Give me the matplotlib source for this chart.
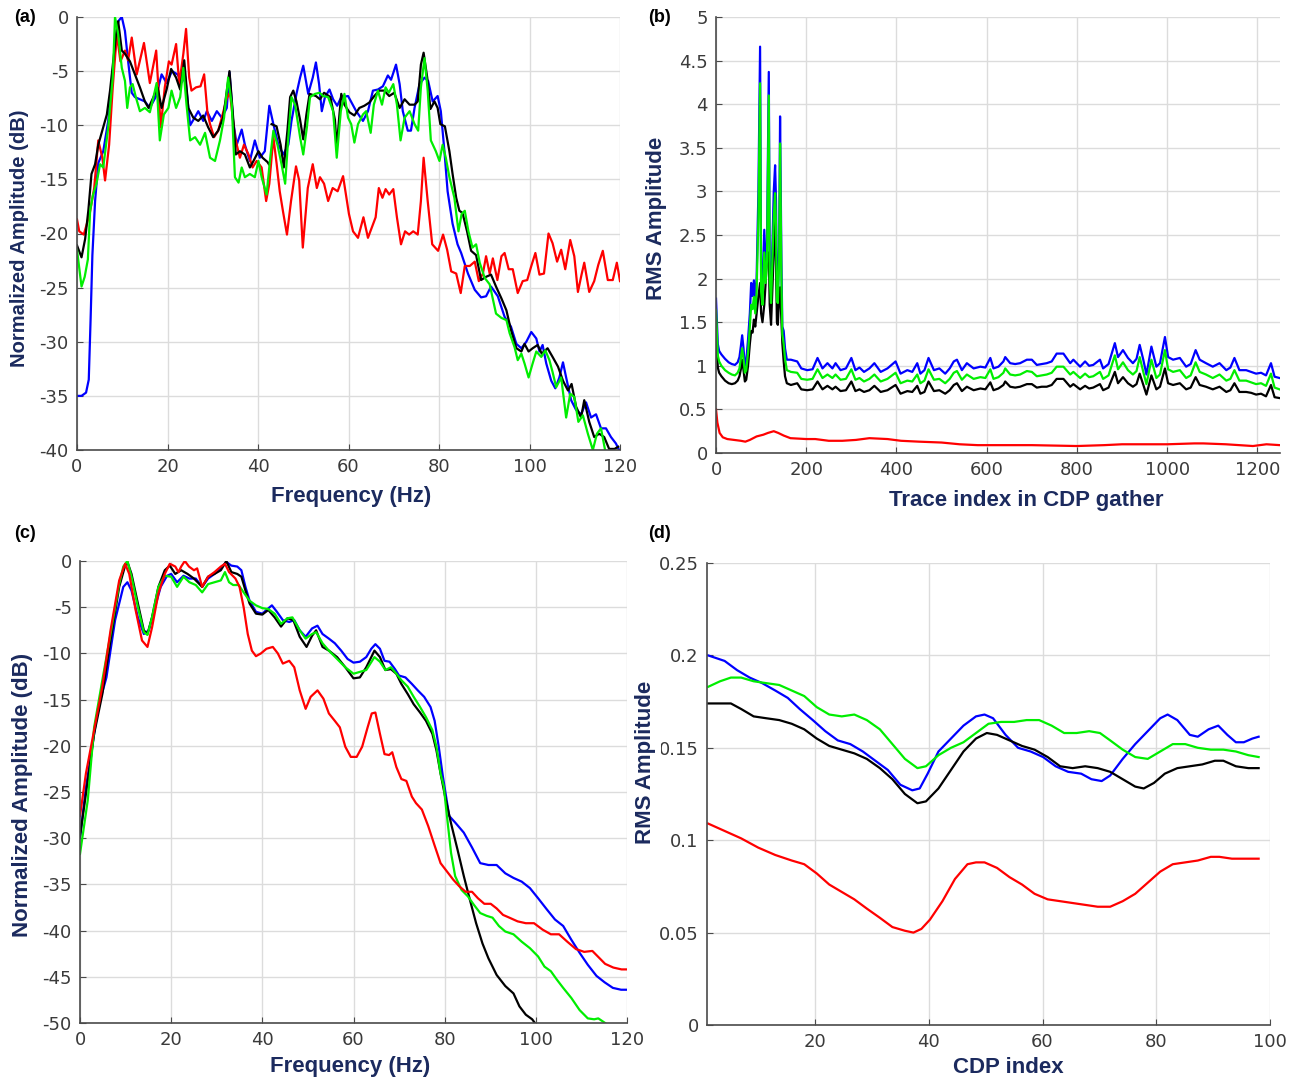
import numpy as np
import matplotlib
matplotlib.use("Agg")
import matplotlib.pyplot as plt
from matplotlib.ticker import FuncFormatter

# ---------------- data: panel (a) amplitude spectra (Hz, dB) ----------------
a_blue = np.array([[0,-35],[1,-35],[2,-34.7],[2.6,-33.5],[3.0,-28],[3.4,-22],[4.0,-17],[4.7,-13.5],[5.8,-12.4],
    [6.9,-9.6],[8.0,-4.7],[9.1,-0.4],[9.9,0],[10.6,-1.3],[11.3,-4.1],[12.1,-7.0],[12.8,-7.4],[13.9,-7.6],[15.0,-7.8],
    [16.1,-8.4],[17.5,-7.3],[18.7,-5.3],[19.8,-6.1],[21.0,-5.0],[22.2,-5.3],[23.2,-6.0],[23.9,-5.5],[25.0,-10.0],
    [26.0,-9.3],[26.8,-8.7],[27.9,-9.6],[28.7,-8.7],[29.8,-9.6],[30.9,-8.7],[32.0,-9.3],[33.1,-8.4],[33.7,-5.1],
    [34.5,-9.6],[35.3,-11.8],[36.4,-10.4],[37.1,-11.8],[38.2,-13.3],[39.3,-11.4],[40.4,-13.0],[41.5,-12.4],[42.5,-8.2],
    [43.4,-9.9],[44.5,-11.8],[45.6,-12.7],[46.7,-11.8],[47.4,-9.6],[48.5,-7.1],[49.3,-5.6],[50.0,-4.5],[51.1,-7.1],
    [52.1,-5.6],[52.8,-4.2],[53.5,-6.2],[54.1,-8.7],[54.8,-7.4],[55.8,-6.7],[56.6,-7.6],[57.5,-8.2],[58.4,-7.4],
    [59.9,-7.3],[61.7,-8.7],[63.2,-9.6],[64.3,-8.7],[65.4,-6.8],[66.5,-6.7],[67.6,-6.4],[68.7,-5.4],[69.4,-5.8],
    [70.5,-4.4],[71.3,-6.2],[72.0,-8.7],[73.1,-10.5],[73.8,-10.5],[74.6,-8.4],[75.7,-6.2],[76.8,-5.6],[77.6,-5.9],
    [78.6,-7.8],[79.7,-7.3],[80.4,-8.7],[81.2,-12.4],[81.9,-16.1],[83.0,-19.1],[84.1,-21.0],[84.9,-21.8],[86.4,-23.7],
    [87.9,-25.2],[89.3,-25.9],[90.4,-25.8],[91.5,-24.9],[93.0,-25.8],[94.5,-27.7],[95.9,-28.6],[97.1,-30.2],[98.2,-30.6],
    [99.3,-30.0],[100.4,-29.1],[101.5,-29.7],[102.2,-30.9],[102.9,-30.3],[103.7,-32.0],[104.8,-33.6],[105.7,-34.3],
    [106.6,-33.3],[107.4,-31.9],[108.1,-33.3],[109.2,-35.4],[110.3,-36.3],[111.4,-36.7],[112.5,-35.6],[113.6,-37.0],
    [114.7,-36.7],[115.8,-38.0],[116.9,-38.0],[118.0,-38.8],[119.1,-39.4],[119.8,-40.0]])

a_black = np.array([[0,-21.1],[1,-22.2],[1.8,-20.5],[2.5,-17.9],[3.2,-14.5],[4.0,-13.6],[4.7,-11.8],[5.8,-10.2],[6.6,-9.0],
    [7.3,-6.8],[8.0,-4.1],[8.8,-1.0],[9.1,-0.4],[9.9,-3.1],[10.6,-3.4],[11.7,-4.1],[12.8,-5.3],[13.9,-6.5],[15.0,-7.8],
    [15.8,-8.4],[16.9,-7.4],[17.8,-6.5],[18.7,-8.4],[19.8,-6.7],[20.8,-4.8],[21.9,-5.6],[22.8,-6.7],[23.7,-4.0],
    [24.6,-8.4],[25.7,-9.3],[26.8,-9.6],[27.9,-9.1],[29.0,-10.2],[30.1,-11.1],[31.2,-10.5],[32.3,-9.3],[33.2,-6.5],
    [33.7,-5.0],[34.4,-8.7],[35.1,-12.7],[36.0,-12.4],[37.1,-12.7],[38.2,-13.9],[39.0,-13.3],[40.1,-12.4],[41.0,-13.0],
    [42.1,-13.4],[42.4,-13.6],[np.nan,np.nan],[43.0,-9.9],[44.1,-10.1],[45.0,-11.8],[45.7,-13.9],[46.5,-10.5],[47.1,-7.4],
    [47.8,-6.8],[48.5,-7.8],[49.3,-9.5],[50.0,-11.3],[50.7,-9.0],[51.4,-7.1],[52.8,-7.3],[53.7,-7.6],[54.6,-7.0],
    [56.0,-7.4],[57.0,-9.5],[57.4,-12.1],[58.0,-9.0],[58.4,-7.1],[59.1,-8.1],[60.2,-8.8],[61.3,-9.1],[62.4,-8.4],
    [63.5,-8.2],[64.6,-7.9],[65.7,-7.3],[66.8,-6.8],[67.9,-6.8],[69.0,-7.3],[70.1,-7.0],[71.3,-8.4],[72.4,-7.6],
    [73.5,-8.1],[74.6,-8.1],[75.3,-7.8],[76.0,-4.4],[76.6,-3.3],[77.4,-5.6],[78.1,-8.5],[79.0,-7.8],[79.7,-8.4],
    [80.3,-9.9],[81.3,-10.1],[82.3,-12.4],[83.0,-14.5],[83.8,-16.7],[84.5,-17.9],[85.2,-18.1],[86.2,-19.8],[87.1,-21.6],
    [88.2,-22.0],[89.3,-24.3],[90.4,-24.0],[91.5,-23.8],[92.6,-24.9],[93.8,-26.0],[94.9,-27.1],[95.9,-28.9],[97.1,-30.6],
    [98.2,-30.9],[98.9,-30.2],[99.8,-30.9],[100.7,-30.6],[101.8,-30.3],[102.7,-31.1],[104.0,-30.6],[105.1,-31.4],
    [106.3,-32.3],[107.4,-33.6],[108.5,-34.5],[109.3,-33.9],[110.3,-36.0],[111.4,-37.0],[112.1,-35.4],[113.2,-37.4],
    [114.3,-38.8],[115.4,-38.5],[116.5,-38.8],[117.6,-39.9],[118.8,-39.9],[119.6,-39.7]])

a_green = np.array([[0,-21.5],[1,-24.9],[1.7,-24.0],[2.4,-22.4],[2.9,-17.9],[3.5,-16.5],[4.3,-15.4],[5.1,-13.6],[5.8,-13.9],
    [6.9,-10.2],[7.9,-5.6],[8.4,0],[9.1,-1.6],[9.9,-4.7],[10.6,-5.9],[11.1,-8.4],[11.7,-6.5],[12.3,-6.2],[13.0,-7.4],
    [13.9,-8.7],[15.0,-8.4],[16.1,-8.8],[16.9,-7.4],[17.6,-6.1],[18.3,-11.4],[19.2,-9.0],[20.2,-8.4],[20.9,-6.8],
    [21.9,-8.4],[22.8,-7.4],[23.5,-4.7],[24.2,-8.1],[25.0,-11.4],[26.1,-11.1],[27.2,-11.8],[28.3,-10.7],[29.4,-13.0],
    [30.5,-13.3],[31.6,-11.4],[32.5,-9.3],[33.4,-5.6],[34.2,-8.1],[34.9,-14.8],[35.7,-15.3],[36.4,-13.9],[37.1,-14.8],
    [38.2,-14.5],[39.3,-14.8],[40.1,-13.3],[40.8,-14.8],[41.9,-16.4],[42.7,-13.0],[43.4,-10.5],[44.3,-11.8],[45.2,-13.6],
    [46.0,-15.4],[46.7,-11.1],[47.4,-7.4],[48.2,-8.1],[49.3,-11.1],[50.0,-12.7],[50.8,-10.2],[51.5,-7.4],[52.6,-7.1],
    [53.6,-7.0],[54.4,-7.3],[55.5,-7.4],[56.6,-8.7],[57.4,-13.0],[58.3,-8.7],[59.1,-7.1],[59.9,-9.3],[60.6,-9.9],
    [61.3,-11.6],[62.1,-9.9],[63.2,-9.0],[63.9,-8.7],[64.9,-10.7],[65.6,-8.1],[66.5,-6.8],[67.4,-8.1],[68.2,-6.5],
    [68.9,-7.0],[69.9,-6.2],[70.7,-8.1],[71.5,-11.4],[72.4,-9.3],[73.5,-8.7],[74.6,-9.9],[75.4,-10.5],[76.0,-6.5],
    [76.8,-3.8],[77.5,-6.8],[78.2,-11.4],[79.3,-12.4],[80.1,-13.3],[80.8,-11.8],[81.5,-13.0],[82.3,-14.8],[83.4,-16.7],
    [84.3,-19.8],[85.0,-18.2],[85.7,-17.9],[86.5,-19.8],[87.4,-21.3],[88.2,-21.0],[89.0,-22.7],[90.1,-24.1],[91.2,-24.7],
    [92.6,-27.4],[93.8,-27.8],[94.9,-28.0],[95.6,-29.2],[96.7,-30.5],[97.4,-31.7],[98.2,-31.1],[98.9,-32.0],[99.8,-33.3],
    [100.7,-32.0],[101.5,-30.9],[102.6,-31.4],[103.5,-30.8],[104.4,-31.7],[105.1,-32.8],[105.9,-34.2],[107.0,-33.3],
    [108.1,-37.0],[109.0,-34.8],[109.9,-35.1],[110.8,-37.4],[111.8,-36.8],[112.9,-38.5],[114.0,-40.0],[114.9,-38.5],
    [115.8,-38.0],[116.7,-40.0]])

a_red = np.array([[0,-18.7],[0.5,-19.8],[1.5,-20.1],[2.8,-18.2],[3.8,-15.8],[4.7,-11.4],[5.6,-13.0],[6.2,-15.1],[7.1,-11.8],
    [7.9,-6.5],[8.8,-1.6],[9.6,-4.1],[10.6,-3.1],[11.3,-4.0],[12.1,-1.9],[13.2,-5.3],[14.8,-2.4],[16.1,-6.1],[17.5,-3.1],
    [18.5,-10.2],[19.4,-6.5],[20.3,-4.1],[20.9,-4.4],[21.9,-2.5],[22.6,-6.2],[23.5,-3.4],[24.1,-1.1],[24.8,-5.6],
    [25.3,-6.8],[26.3,-6.5],[27.3,-6.4],[28.1,-5.3],[28.8,-8.7],[29.4,-9.9],[30.3,-11.1],[31.2,-10.5],[32.0,-9.3],
    [33.1,-7.5],[33.8,-7.0],[34.9,-11.1],[36.0,-13.0],[36.9,-11.8],[37.9,-12.7],[38.8,-13.9],[39.7,-13.3],[40.8,-13.9],
    [41.8,-17.0],[42.5,-15.4],[43.4,-11.1],[44.1,-13.5],[44.8,-16.1],[45.5,-17.9],[46.4,-20.1],[47.3,-17.0],[48.4,-13.8],
    [49.1,-15.1],[49.9,-21.3],[51.0,-15.8],[52.1,-13.6],[53.0,-15.8],[53.7,-14.8],[54.6,-15.4],[55.5,-17.0],[56.5,-15.8],
    [57.6,-16.1],[58.8,-14.7],[60.1,-18.2],[61.0,-19.8],[62.1,-20.4],[63.3,-18.5],[64.3,-20.4],[65.2,-19.4],[66.0,-18.5],
    [66.7,-15.8],[67.5,-16.7],[68.2,-15.9],[69.0,-16.4],[69.9,-15.9],[70.7,-18.5],[71.6,-21.0],[72.5,-19.8],[73.4,-20.1],
    [74.3,-19.8],[75.3,-20.1],[76.0,-17.0],[76.6,-13.0],[77.5,-17.0],[78.5,-21.0],[79.8,-21.6],[80.9,-20.1],[81.8,-21.5],
    [82.7,-23.5],[83.8,-23.7],[84.8,-25.5],[85.7,-23.0],[86.8,-23.0],[87.9,-22.6],[88.8,-24.4],[89.7,-23.7],[90.4,-22.1],
    [91.2,-23.7],[91.9,-22.3],[92.9,-24.3],[93.8,-22.1],[94.5,-21.8],[95.4,-23.3],[96.3,-23.3],[97.4,-25.5],[98.5,-24.4],
    [99.5,-24.3],[100.4,-23.0],[101.3,-21.8],[102.2,-23.8],[103.2,-23.7],[104.2,-20.0],[105.1,-20.9],[106.1,-22.6],
    [107.0,-21.5],[107.9,-23.3],[109.0,-20.6],[109.9,-22.1],[110.7,-25.4],[111.5,-23.8],[112.1,-22.7],[113.2,-25.4],
    [114.3,-24.4],[115.2,-22.9],[116.2,-21.6],[117.3,-24.3],[118.4,-24.3],[119.3,-22.7],[120.0,-24.4]])

# ---------------- data: panel (b) RMS amplitude vs trace index ----------------
b_blue = np.array([[0,1.77],[2,1.5],[4,1.25],[7,1.17],[12,1.13],[20,1.08],[28,1.04],[35,1.02],[42,1.01],[48,1.04],[52,1.1],
    [55,1.22],[58,1.35],[61,1.2],[64,1.0],[67,1.05],[71,1.3],[75,1.6],[78,1.95],[81,1.8],[84,1.98],[87,1.75],[90,2.0],
    [94,3.0],[97.7,4.66],[100,2.0],[103,1.85],[107,2.56],[110,2.1],[113,2.4],[117,4.37],[119,2.2],[122,1.75],[125,2.4],
    [128,3.0],[131,3.3],[133,2.9],[135,1.9],[137,1.75],[140,2.4],[142,3.86],[145,2.2],[147,1.45],[150,1.4],[153,1.2],
    [157,1.07],[166,1.07],[180,1.05],[189,0.97],[202,0.95],[214,0.96],[225,1.09],[236,0.97],[247,1.03],[258,0.97],
    [265,1.03],[276,0.95],[288,0.97],[300,1.09],[309,0.95],[318,0.98],[328,0.93],[340,0.97],[351,1.03],[365,0.93],
    [380,0.97],[398,1.05],[409,0.91],[424,0.95],[435,0.93],[446,1.03],[453,0.91],[462,0.95],[471,1.09],[483,0.95],
    [495,0.97],[508,0.91],[518,0.97],[527,1.05],[534,1.07],[545,0.95],[556,1.03],[571,0.97],[586,0.99],[597,0.98],
    [608,1.09],[615,0.97],[626,0.99],[637,1.05],[641,1.1],[652,1.03],[663,1.02],[674,1.03],[689,1.07],[700,1.07],
    [711,1.01],[722,1.02],[733,1.03],[744,1.05],[755,1.14],[770,1.14],[785,1.03],[792,1.07],[807,0.99],[818,1.05],
    [827,1.0],[836,1.01],[851,1.07],[858,0.97],[870,1.02],[884,1.26],[891,1.1],[902,1.18],[913,1.09],[924,1.03],
    [932,1.08],[939,1.24],[947,1.07],[954,0.9],[965,1.22],[976,0.99],[984,1.03],[995,1.33],[1002,1.1],[1013,1.07],
    [1028,1.09],[1042,0.99],[1052,1.02],[1063,1.18],[1072,1.07],[1086,1.03],[1101,0.99],[1116,1.03],[1131,0.95],
    [1140,0.98],[1149,1.09],[1160,0.95],[1175,0.95],[1186,0.93],[1197,0.91],[1208,0.92],[1219,0.89],[1230,1.03],
    [1238,0.875],[1249,0.86]])

b_green = np.array([[0,1.64],[2,1.38],[4,1.12],[7,1.05],[12,1.0],[20,0.95],[28,0.92],[35,0.9],[42,0.89],[48,0.92],[52,0.97],
    [55,1.08],[58,1.2],[61,1.08],[64,0.92],[67,0.95],[71,1.15],[75,1.45],[78,1.7],[81,1.65],[84,1.79],[87,1.6],[90,1.85],
    [94,2.7],[97.7,4.24],[100,1.85],[103,1.7],[107,2.3],[110,1.95],[113,2.2],[117,4.1],[119,2.0],[122,1.72],[125,2.2],
    [128,2.7],[131,2.98],[133,2.6],[135,1.75],[137,1.72],[140,2.2],[142,3.55],[145,2.0],[147,1.36],[150,1.25],[153,1.08],
    [157,0.95],[166,0.93],[180,0.92],[189,0.85],[202,0.84],[214,0.85],[225,0.96],[236,0.86],[247,0.9],[258,0.86],
    [265,0.9],[276,0.84],[288,0.85],[300,0.96],[309,0.84],[318,0.86],[328,0.82],[340,0.85],[351,0.9],[365,0.82],
    [380,0.85],[398,0.92],[409,0.8],[424,0.83],[435,0.82],[446,0.9],[453,0.8],[462,0.83],[471,0.96],[483,0.84],
    [495,0.85],[508,0.8],[518,0.85],[527,0.92],[534,0.94],[545,0.84],[556,0.9],[571,0.85],[586,0.87],[597,0.86],
    [608,0.96],[615,0.85],[626,0.87],[637,0.92],[641,0.97],[652,0.9],[663,0.89],[674,0.9],[689,0.94],[700,0.93],
    [711,0.88],[722,0.89],[733,0.9],[744,0.92],[755,0.99],[770,0.99],[785,0.9],[792,0.93],[807,0.86],[818,0.91],
    [827,0.87],[836,0.88],[851,0.93],[858,0.85],[870,0.89],[884,1.12],[891,0.96],[902,1.04],[913,0.95],[924,0.9],
    [932,0.94],[939,1.1],[947,0.93],[954,0.79],[965,1.07],[976,0.86],[984,0.9],[995,1.18],[1002,0.96],[1013,0.93],
    [1028,0.95],[1042,0.86],[1052,0.89],[1063,1.04],[1072,0.93],[1086,0.9],[1101,0.86],[1116,0.9],[1131,0.83],
    [1140,0.85],[1149,0.95],[1160,0.83],[1175,0.83],[1186,0.81],[1197,0.79],[1208,0.8],[1219,0.77],[1230,0.91],
    [1238,0.75],[1249,0.73]])

b_black = np.array([[0,1.53],[2,1.2],[4,0.98],[7,0.92],[12,0.88],[20,0.83],[28,0.8],[35,0.79],[42,0.8],[48,0.83],[52,0.88],
    [55,0.96],[58,1.07],[61,0.95],[64,0.82],[67,0.84],[71,1.0],[75,1.25],[78,1.4],[81,1.38],[84,1.53],[87,1.45],[90,1.6],
    [94,1.8],[97.7,1.95],[100,1.6],[103,1.5],[107,1.7],[110,1.95],[113,2.25],[117,2.3],[119,1.7],[122,1.47],[125,1.9],
    [128,2.3],[131,2.67],[133,2.2],[135,1.5],[137,1.47],[140,1.8],[142,1.9],[145,1.5],[147,1.26],[150,1.05],[153,0.88],
    [157,0.8],[166,0.78],[180,0.8],[189,0.73],[202,0.72],[214,0.73],[225,0.82],[236,0.73],[247,0.77],[258,0.73],
    [265,0.76],[276,0.71],[288,0.72],[300,0.82],[309,0.71],[318,0.73],[328,0.7],[340,0.72],[351,0.77],[365,0.7],
    [380,0.72],[398,0.78],[409,0.68],[424,0.71],[435,0.7],[446,0.77],[453,0.68],[462,0.7],[471,0.82],[483,0.71],
    [495,0.72],[508,0.68],[518,0.72],[527,0.78],[534,0.8],[545,0.71],[556,0.76],[571,0.72],[586,0.74],[597,0.73],
    [608,0.81],[615,0.72],[626,0.74],[637,0.78],[641,0.82],[652,0.76],[663,0.75],[674,0.76],[689,0.79],[700,0.79],
    [711,0.75],[722,0.76],[733,0.76],[744,0.78],[755,0.85],[770,0.85],[785,0.76],[792,0.79],[807,0.73],[818,0.77],
    [827,0.74],[836,0.75],[851,0.79],[858,0.72],[870,0.75],[884,0.93],[891,0.8],[902,0.87],[913,0.8],[924,0.76],
    [932,0.79],[939,0.91],[947,0.78],[954,0.67],[965,0.89],[976,0.73],[984,0.76],[995,0.97],[1002,0.8],[1013,0.78],
    [1028,0.8],[1042,0.73],[1052,0.75],[1063,0.87],[1072,0.78],[1086,0.76],[1101,0.73],[1116,0.76],[1131,0.7],
    [1140,0.72],[1149,0.8],[1160,0.7],[1175,0.7],[1186,0.69],[1197,0.67],[1208,0.68],[1219,0.65],[1230,0.78],
    [1238,0.64],[1249,0.63]])

b_red = np.array([[0,0.5],[3,0.35],[8,0.23],[15,0.18],[25,0.16],[40,0.15],[55,0.14],[65,0.13],[75,0.15],[90,0.19],[105,0.21],
    [115,0.23],[128,0.25],[138,0.23],[150,0.2],[165,0.17],[200,0.16],[220,0.16],[250,0.14],[280,0.14],[310,0.15],
    [340,0.17],[380,0.16],[410,0.14],[450,0.13],[500,0.12],[540,0.1],[580,0.09],[620,0.09],[700,0.09],[800,0.08],
    [860,0.09],[900,0.1],[1000,0.1],[1060,0.11],[1080,0.11],[1130,0.1],[1190,0.08],[1220,0.1],[1250,0.09]])

# ---------------- data: panel (c) averaged spectra (Hz, dB) ----------------
c_blue = np.array([[0,-30],[1.3,-24.5],[4.0,-15.8],[5.8,-12.6],[7.7,-6.4],[9.5,-2.8],[10.4,-2.3],[11.3,-3.2],[12.7,-6.1],
    [14.0,-7.9],[15.1,-7.5],[16.3,-5.3],[17.7,-2.8],[19.1,-1.6],[20.0,-1.4],[21.3,-2.3],[22.7,-1.6],[24.0,-1.9],
    [25.4,-1.9],[26.8,-2.8],[28.1,-1.9],[29.5,-1.4],[30.9,-0.8],[32.1,-0.1],[33.2,-0.5],[34.5,-0.6],[35.4,-1.0],
    [36.3,-2.8],[37.2,-4.3],[38.6,-5.5],[40.0,-5.7],[40.9,-5.3],[42.1,-4.8],[43.2,-5.5],[44.5,-6.4],[45.9,-6.6],
    [47.0,-6.4],[48.2,-7.5],[49.5,-8.2],[50.9,-7.3],[52.1,-7.0],[53.2,-7.9],[54.6,-8.4],[55.9,-8.9],[57.3,-9.7],
    [58.7,-10.6],[60.0,-11.0],[61.4,-10.9],[62.8,-10.4],[63.9,-9.5],[64.8,-9.0],[65.8,-9.5],[66.8,-10.8],[67.9,-10.9],
    [69.1,-11.7],[70.0,-12.4],[71.4,-12.6],[72.8,-13.3],[74.1,-14.0],[75.5,-14.7],[76.9,-15.8],[77.8,-17.3],[78.7,-20.1],
    [79.6,-23.3],[81.0,-27.6],[82.3,-28.3],[84.2,-29.4],[86.0,-31.0],[87.8,-32.7],[89.6,-32.9],[91.4,-32.9],[93.3,-33.8],
    [95.1,-34.3],[96.9,-34.7],[98.7,-35.4],[100.5,-36.5],[102.4,-37.7],[104.2,-38.8],[106.0,-39.5],[107.8,-41.0],
    [109.6,-42.4],[111.4,-43.7],[113.3,-44.9],[115.1,-45.6],[116.9,-46.2],[118.7,-46.4],[120.0,-46.4]])

c_black = np.array([[0,-29.8],[1.5,-24.5],[3.1,-18.7],[4.9,-14.4],[6.7,-8.6],[8.6,-2.8],[9.9,-0.5],[10.4,-0.1],[11.3,-1.4],
    [12.7,-4.6],[14.0,-7.5],[14.8,-7.9],[15.8,-6.1],[17.2,-2.8],[18.6,-1.0],[19.7,-0.5],[20.9,-1.4],[22.2,-1.0],
    [23.6,-1.4],[25.0,-1.9],[26.8,-2.8],[28.1,-1.7],[29.5,-1.4],[30.9,-1.0],[32.1,0],[33.2,-1.2],[34.5,-1.4],[35.4,-1.7],
    [36.3,-3.2],[37.2,-4.6],[38.6,-5.7],[40.0,-5.8],[41.3,-5.3],[42.7,-6.1],[44.1,-7.1],[45.5,-6.2],[46.8,-6.4],
    [48.2,-8.2],[49.7,-9.3],[50.9,-8.1],[51.8,-7.5],[53.2,-9.3],[54.6,-9.7],[56.4,-10.4],[58.2,-11.5],[60.0,-12.7],
    [61.4,-12.6],[62.8,-11.5],[64.6,-9.7],[65.8,-10.4],[67.0,-11.8],[68.2,-11.7],[69.4,-12.2],[70.5,-13.3],[71.9,-14.4],
    [73.2,-15.5],[74.6,-16.4],[75.9,-17.3],[77.3,-18.7],[78.2,-20.5],[79.1,-23.0],[80.1,-25.5],[81.4,-28.4],[82.8,-31.2],
    [84.2,-34.1],[85.5,-36.6],[86.9,-39.2],[88.3,-41.4],[89.6,-43.0],[91.4,-44.8],[93.3,-46.0],[95.1,-46.8],[96.4,-48.2],
    [97.8,-49.1],[99.2,-49.6],[99.8,-50.0]])

c_green = np.array([[0,-31.7],[1.7,-25.9],[3.1,-18.0],[4.9,-12.9],[6.7,-7.9],[8.6,-2.5],[9.5,-0.6],[10.4,0],[11.3,-1.7],
    [12.7,-5.0],[14.0,-7.7],[14.8,-8.0],[15.8,-6.1],[17.2,-2.8],[18.6,-1.6],[20.0,-1.7],[21.3,-2.8],[22.7,-1.7],
    [24.0,-2.3],[25.4,-2.6],[26.8,-3.4],[28.1,-2.5],[29.5,-2.3],[30.9,-2.1],[31.8,-1.2],[32.7,-2.3],[33.6,-2.6],
    [34.8,-2.6],[35.9,-3.4],[37.2,-4.3],[38.6,-4.8],[40.0,-5.1],[41.3,-5.2],[42.7,-5.7],[44.1,-6.8],[45.5,-6.2],
    [46.6,-6.1],[48.2,-7.5],[49.5,-8.4],[50.9,-7.9],[51.8,-7.7],[53.2,-8.9],[54.6,-9.7],[56.4,-10.6],[58.2,-11.5],
    [60.0,-12.2],[61.4,-12.0],[62.8,-11.8],[64.6,-10.4],[65.8,-10.9],[67.0,-11.8],[68.2,-11.5],[69.4,-12.2],[70.5,-12.9],
    [71.9,-13.6],[73.2,-14.7],[74.6,-15.8],[75.9,-16.9],[77.3,-18.3],[78.2,-20.1],[79.1,-23.0],[79.8,-24.4],[80.5,-27.6],
    [81.4,-31.6],[82.3,-34.1],[83.7,-35.6],[85.1,-36.3],[86.4,-37.2],[87.8,-38.1],[89.2,-38.4],[90.5,-38.6],[91.9,-39.5],
    [93.3,-40.1],[95.1,-40.4],[96.9,-41.2],[98.7,-41.9],[100.5,-42.8],[101.9,-43.9],[103.3,-44.4],[104.6,-45.3],
    [106.0,-46.2],[107.8,-47.3],[109.6,-48.6],[111.4,-49.5],[112.8,-49.6],[113.7,-49.5],[114.6,-49.8],[115.2,-50.0]])

c_red = np.array([[0,-27.6],[1.3,-23.0],[3.1,-18.3],[4.9,-13.6],[6.7,-7.5],[8.6,-2.1],[9.9,-0.3],[10.8,-1.4],[12.2,-5.3],
    [13.6,-8.6],[14.8,-9.3],[15.8,-7.2],[17.2,-3.5],[18.6,-1.4],[19.7,-0.3],[20.9,-0.6],[21.6,-1.2],[22.2,-0.6],[23.0,0],
    [23.9,-0.6],[25.0,-1.0],[25.7,-0.8],[26.8,-2.8],[28.1,-1.7],[29.5,-1.2],[30.9,-0.6],[31.8,-0.3],[32.7,-1.2],
    [34.1,-1.9],[35.0,-2.8],[35.9,-5.0],[36.8,-7.9],[37.7,-9.7],[38.6,-10.3],[39.7,-10.0],[40.9,-9.5],[42.3,-9.3],
    [43.4,-10.0],[44.5,-11.1],[45.9,-10.8],[47.0,-11.5],[48.2,-14.0],[49.5,-16.0],[50.6,-14.7],[52.1,-14.0],[53.4,-14.9],
    [54.6,-16.5],[55.9,-17.3],[57.0,-18.0],[58.2,-20.1],[59.4,-21.2],[60.7,-21.2],[61.9,-20.1],[63.1,-18.0],[64.0,-16.5],
    [64.8,-16.4],[65.8,-18.7],[66.8,-20.9],[67.8,-21.0],[68.5,-20.7],[69.4,-22.3],[70.5,-23.6],[71.6,-23.8],[72.8,-25.5],
    [73.7,-26.2],[75.0,-26.9],[76.4,-28.7],[77.8,-30.8],[79.1,-32.7],[80.5,-33.6],[81.9,-34.5],[83.2,-35.2],[84.6,-35.8],
    [86.0,-35.8],[87.3,-36.5],[88.7,-37.1],[90.1,-37.1],[91.4,-37.6],[92.8,-38.3],[94.2,-38.6],[96.0,-39.0],[97.8,-39.2],
    [99.6,-39.2],[101.5,-39.9],[103.3,-40.4],[105.1,-40.4],[106.9,-41.2],[108.8,-42.0],[110.6,-42.3],[112.4,-42.2],
    [113.8,-42.9],[115.2,-43.6],[117.0,-44.0],[118.8,-44.2],[120.0,-44.2]])

# ---------------- data: panel (d) RMS amplitude vs CDP index ----------------
d_blue = np.array([[1.2,0.2],[4.1,0.197],[6.3,0.192],[8.5,0.188],[10.7,0.185],[13.0,0.181],[15.2,0.177],[17.3,0.171],
    [19.6,0.165],[21.8,0.159],[24.0,0.154],[26.2,0.152],[28.4,0.148],[30.6,0.143],[32.8,0.138],[35.0,0.13],[37.1,0.127],
    [38.4,0.128],[39.8,0.136],[41.7,0.148],[43.9,0.155],[46.1,0.162],[48.3,0.167],[49.8,0.168],[51.3,0.166],[53.5,0.157],
    [55.7,0.15],[57.9,0.148],[60.1,0.145],[62.3,0.14],[64.5,0.137],[66.8,0.136],[68.6,0.133],[70.4,0.132],[71.9,0.135],
    [74.1,0.144],[76.3,0.152],[78.5,0.159],[80.7,0.166],[82.0,0.168],[83.7,0.165],[85.9,0.157],[87.3,0.156],[89.2,0.16],
    [90.9,0.162],[92.5,0.157],[94.0,0.153],[95.4,0.153],[96.9,0.155],[98.0,0.156]])

d_green = np.array([[1.2,0.183],[3.3,0.186],[5.2,0.188],[7.0,0.188],[9.2,0.186],[11.4,0.185],[13.7,0.184],[15.9,0.181],
    [18.1,0.178],[20.3,0.172],[22.5,0.168],[24.7,0.167],[26.9,0.168],[29.1,0.165],[31.4,0.16],[33.6,0.152],[35.8,0.144],
    [38.0,0.139],[39.5,0.14],[41.7,0.146],[43.9,0.15],[46.1,0.153],[48.3,0.158],[50.5,0.163],[52.7,0.164],[55.0,0.164],
    [57.2,0.165],[59.4,0.165],[61.6,0.162],[63.8,0.158],[66.0,0.158],[68.2,0.159],[70.1,0.158],[71.9,0.154],[74.1,0.149],
    [76.3,0.145],[78.5,0.144],[80.7,0.148],[82.9,0.152],[85.1,0.152],[87.3,0.15],[89.6,0.149],[91.8,0.149],[94.0,0.148],
    [96.2,0.146],[98.0,0.145]])

d_black = np.array([[1.2,0.174],[3.3,0.174],[5.2,0.174],[7.0,0.171],[9.2,0.167],[11.4,0.166],[13.7,0.165],[15.9,0.163],
    [18.1,0.16],[20.3,0.155],[22.5,0.151],[24.7,0.149],[26.9,0.147],[29.1,0.144],[31.4,0.139],[33.6,0.133],[35.8,0.125],
    [38.0,0.12],[39.5,0.121],[41.7,0.128],[43.9,0.138],[46.1,0.148],[48.3,0.155],[50.2,0.158],[52.0,0.157],[54.2,0.154],
    [56.4,0.151],[58.6,0.149],[60.9,0.145],[63.1,0.14],[65.3,0.139],[67.5,0.14],[69.7,0.139],[71.9,0.137],[74.1,0.133],
    [76.3,0.129],[77.8,0.128],[79.6,0.131],[81.5,0.136],[83.7,0.139],[85.9,0.14],[88.1,0.141],[90.3,0.143],[91.8,0.143],
    [94.0,0.14],[96.2,0.139],[98.0,0.139]])

d_red = np.array([[1.2,0.109],[4.1,0.105],[7.0,0.101],[10.0,0.096],[13.0,0.092],[15.9,0.089],[18.1,0.087],[20.3,0.082],
    [22.5,0.076],[24.7,0.072],[26.9,0.068],[29.1,0.063],[31.4,0.058],[33.6,0.053],[35.8,0.051],[37.3,0.05],[38.7,0.052],
    [40.2,0.057],[42.4,0.067],[44.6,0.079],[46.8,0.087],[48.3,0.088],[49.8,0.088],[52.0,0.085],[54.2,0.08],[56.4,0.076],
    [58.6,0.071],[60.9,0.068],[63.1,0.067],[65.3,0.066],[67.5,0.065],[69.7,0.064],[71.9,0.064],[74.1,0.067],[76.3,0.071],
    [78.5,0.077],[80.7,0.083],[82.9,0.087],[85.1,0.088],[87.3,0.089],[89.6,0.091],[91.1,0.091],[93.3,0.09],[95.4,0.09],
    [98.0,0.09]])

# ---------------- labels / ticks ----------------
freq_ticks = [0, 20, 40, 60, 80, 100, 120]
a_db_ticks = [-40, -35, -30, -25, -20, -15, -10, -5, 0]
c_db_ticks = [-50, -45, -40, -35, -30, -25, -20, -15, -10, -5, 0]
b_x_ticks = [0, 200, 400, 600, 800, 1000, 1200]
b_y_ticks = [0, 0.5, 1, 1.5, 2, 2.5, 3, 3.5, 4, 4.5, 5]
d_x_ticks = [20, 40, 60, 80, 100]
d_y_ticks = [0, 0.05, 0.1, 0.15, 0.2, 0.25]

# ---------------- styling ----------------
W, H = 1297, 1080
fig = plt.figure(figsize=(W / 100, H / 100), dpi=100)
fig.patch.set_facecolor("white")

NAVY = "#1b2a5e"
TICK_C = "#3a3a3a"
LW = 1.6
COLORS = {"blue": "#0000ff", "black": "#000000", "green": "#00ee00", "red": "#ff0000"}


def px_axes(left, right, top, bottom):
    return fig.add_axes([left / W, 1 - bottom / H, (right - left) / W, (bottom - top) / H])


def style(ax):
    for s in ("top", "right"):
        ax.spines[s].set_visible(False)
    for s in ("left", "bottom"):
        ax.spines[s].set_color("#4a4a4a")
        ax.spines[s].set_linewidth(1.2)
    ax.grid(True, color="#dcdcdc", linewidth=1.0)
    ax.set_axisbelow(True)
    ax.tick_params(direction="in", length=4, width=0.8, color="#4a4a4a",
                   labelsize=13, labelcolor=TICK_C, pad=6)
    fmt = FuncFormatter(lambda v, p: ("%g" % v))
    ax.yaxis.set_major_formatter(fmt)
    ax.xaxis.set_major_formatter(fmt)


def curves(ax, series):
    for arr, c in series:
        ax.plot(arr[:, 0], arr[:, 1], color=COLORS[c], lw=LW, solid_joinstyle="round")


LABEL_FONT = dict(family=["Liberation Sans", "DejaVu Sans"], weight="bold", color=NAVY)

# ---- (a)
axa = px_axes(77, 620, 17, 450)
style(axa)
curves(axa, [(a_blue, "blue"), (a_red, "red"), (a_black, "black"), (a_green, "green")])
axa.set_xlim(0, 120)
axa.set_ylim(-40, 0)
axa.set_xticks(freq_ticks)
axa.set_yticks(a_db_ticks)
axa.set_xlabel("Frequency (Hz)", fontsize=16, va="center", **LABEL_FONT)
axa.xaxis.set_label_coords(0.505, -0.108)
axa.set_ylabel("Normalized Amplitude (dB)", fontsize=14.5, va="center", **LABEL_FONT)
axa.yaxis.set_label_coords(-0.105, 0.49)

# ---- (b)
axb = px_axes(716, 1280, 17, 453)
style(axb)
curves(axb, [(b_blue, "blue"), (b_black, "black"), (b_green, "green"), (b_red, "red")])
axb.set_xlim(0, 1250)
axb.set_ylim(0, 5)
axb.set_xticks(b_x_ticks)
axb.set_yticks(b_y_ticks)
axb.set_xlabel("Trace index in CDP gather", fontsize=16, va="center", **LABEL_FONT)
axb.xaxis.set_label_coords(0.55, -0.108)
axb.set_ylabel("RMS Amplitude", fontsize=16, va="center", **LABEL_FONT)
axb.yaxis.set_label_coords(-0.105, 0.539)

# ---- (c)
axc = px_axes(80, 627, 561, 1023)
style(axc)
curves(axc, [(c_blue, "blue"), (c_black, "black"), (c_green, "green"), (c_red, "red")])
axc.set_xlim(0, 120)
axc.set_ylim(-50, 0)
axc.set_xticks(freq_ticks)
axc.set_yticks(c_db_ticks)
axc.set_xlabel("Frequency (Hz)", fontsize=16, va="center", **LABEL_FONT)
axc.xaxis.set_label_coords(0.494, -0.095)
axc.set_ylabel("Normalized Amplitude (dB)", fontsize=16, va="center", **LABEL_FONT)
axc.yaxis.set_label_coords(-0.106, 0.4935)

# ---- (d)
axd = px_axes(707, 1270, 563, 1025)
style(axd)
curves(axd, [(d_blue, "blue"), (d_black, "black"), (d_green, "green"), (d_red, "red")])
axd.set_xlim(1, 100)
axd.set_ylim(0, 0.25)
axd.set_xticks(d_x_ticks)
axd.set_yticks(d_y_ticks)
axd.set_xlabel("CDP index", fontsize=16, va="center", **LABEL_FONT)
axd.xaxis.set_label_coords(0.536, -0.093)
yl = axd.set_ylabel("RMS Amplitude", fontsize=16, va="center", **LABEL_FONT)
axd.yaxis.set_label_coords(-0.110, 0.569)
yl.set_bbox(dict(facecolor="white", edgecolor="none", pad=4))
yl.set_zorder(10)

# ---- panel letters
for txt, (x, y) in {"(a)": (25, 17), "(b)": (660, 17), "(c)": (25, 533), "(d)": (660, 533)}.items():
    fig.text(x / W, 1 - y / H, txt, ha="center", va="center", fontsize=13, weight="bold",
             family=["Liberation Sans", "DejaVu Sans"], color="black")

fig.savefig("out.png", dpi=100, facecolor="white")
